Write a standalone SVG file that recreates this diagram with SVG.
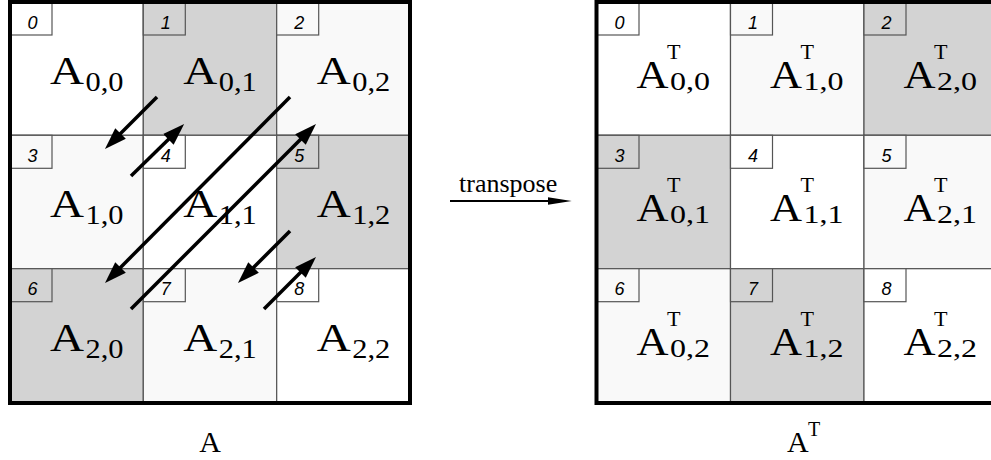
<svg xmlns="http://www.w3.org/2000/svg" width="991" height="460" viewBox="0 0 991 460">
<style>
.bg{fill:#ffffff}
.w{fill:#ffffff;stroke:#555555;stroke-width:1.2}
.l{fill:#f9f9f9;stroke:#555555;stroke-width:1.2}
.g{fill:#d3d3d3;stroke:#555555;stroke-width:1.2}
.border{fill:none;stroke:#000000;stroke-width:4}
.num{font-family:"Liberation Sans",Arial,sans-serif;font-style:italic;font-size:18px;fill:#000}
.a{font-family:"Liberation Serif","Times New Roman",serif;font-size:40px;fill:#000}
.s{font-family:"Liberation Serif","Times New Roman",serif;font-size:27px;fill:#000}
.ra{font-family:"Liberation Serif","Times New Roman",serif;font-size:40px;fill:#000}
.rs{font-family:"Liberation Serif","Times New Roman",serif;font-size:26px;fill:#000}
.rt{font-family:"Liberation Serif","Times New Roman",serif;font-size:21px;fill:#000}
.bl{font-family:"Liberation Serif","Times New Roman",serif;font-size:30px;fill:#000}
.bt{font-family:"Liberation Serif","Times New Roman",serif;font-size:20px;fill:#000}
.lbl{font-family:"Liberation Serif","Times New Roman",serif;font-size:26px;fill:#000}
.arr{stroke:#000;stroke-width:3.5;fill:none;marker-end:url(#ah)}
.tarr{stroke:#000;stroke-width:2;fill:none;marker-end:url(#ah2)}
</style>
<defs>
<marker id="ah" markerUnits="userSpaceOnUse" viewBox="0 -8 22 16" refX="6" refY="0" markerWidth="22" markerHeight="16" orient="auto">
<path d="M0,-7.5 L22,0 L0,7.5 z" fill="#000"/>
</marker>
<marker id="ah2" markerUnits="userSpaceOnUse" viewBox="0 -5 24 10" refX="4" refY="0" markerWidth="24" markerHeight="10" orient="auto">
<path d="M0,-3.8 L24,0 L0,3.8 z" fill="#000"/>
</marker>
</defs>
<rect class="bg" x="0" y="0" width="991" height="460"/>

<!-- Left matrix A -->
<g id="A00"><rect class="w" x="10" y="2" width="133.3" height="133.3"/><rect class="w" x="10" y="2" width="42" height="33"/><text class="num" x="27.5" y="28.5">0</text><text class="a" x="50" y="84" textLength="34" lengthAdjust="spacingAndGlyphs">A</text><text class="s" x="85.5" y="91" textLength="38" lengthAdjust="spacingAndGlyphs">0,0</text></g>
<g id="A01"><rect class="g" x="143.3" y="2" width="133.3" height="133.3"/><rect class="g" x="143.3" y="2" width="42" height="33"/><text class="num" x="160.8" y="28.5">1</text><text class="a" x="183.3" y="84" textLength="34" lengthAdjust="spacingAndGlyphs">A</text><text class="s" x="218.8" y="91" textLength="38" lengthAdjust="spacingAndGlyphs">0,1</text></g>
<g id="A02"><rect class="l" x="276.7" y="2" width="133.3" height="133.3"/><rect class="l" x="276.7" y="2" width="42" height="33"/><text class="num" x="294.2" y="28.5">2</text><text class="a" x="316.7" y="84" textLength="34" lengthAdjust="spacingAndGlyphs">A</text><text class="s" x="352.2" y="91" textLength="38" lengthAdjust="spacingAndGlyphs">0,2</text></g>
<g id="A10"><rect class="l" x="10" y="135.3" width="133.3" height="133.3"/><rect class="l" x="10" y="135.3" width="42" height="33"/><text class="num" x="27.5" y="161.8">3</text><text class="a" x="50" y="217.3" textLength="34" lengthAdjust="spacingAndGlyphs">A</text><text class="s" x="85.5" y="224.3" textLength="38" lengthAdjust="spacingAndGlyphs">1,0</text></g>
<g id="A11"><rect class="w" x="143.3" y="135.3" width="133.3" height="133.3"/><rect class="w" x="143.3" y="135.3" width="42" height="33"/><text class="num" x="160.8" y="161.8">4</text><text class="a" x="183.3" y="217.3" textLength="34" lengthAdjust="spacingAndGlyphs">A</text><text class="s" x="218.8" y="224.3" textLength="38" lengthAdjust="spacingAndGlyphs">1,1</text></g>
<g id="A12"><rect class="g" x="276.7" y="135.3" width="133.3" height="133.3"/><rect class="g" x="276.7" y="135.3" width="42" height="33"/><text class="num" x="294.2" y="161.8">5</text><text class="a" x="316.7" y="217.3" textLength="34" lengthAdjust="spacingAndGlyphs">A</text><text class="s" x="352.2" y="224.3" textLength="38" lengthAdjust="spacingAndGlyphs">1,2</text></g>
<g id="A20"><rect class="g" x="10" y="268.7" width="133.3" height="133.3"/><rect class="g" x="10" y="268.7" width="42" height="33"/><text class="num" x="27.5" y="295.2">6</text><text class="a" x="50" y="350.7" textLength="34" lengthAdjust="spacingAndGlyphs">A</text><text class="s" x="85.5" y="357.7" textLength="38" lengthAdjust="spacingAndGlyphs">2,0</text></g>
<g id="A21"><rect class="l" x="143.3" y="268.7" width="133.3" height="133.3"/><rect class="l" x="143.3" y="268.7" width="42" height="33"/><text class="num" x="160.8" y="295.2">7</text><text class="a" x="183.3" y="350.7" textLength="34" lengthAdjust="spacingAndGlyphs">A</text><text class="s" x="218.8" y="357.7" textLength="38" lengthAdjust="spacingAndGlyphs">2,1</text></g>
<g id="A22"><rect class="w" x="276.7" y="268.7" width="133.3" height="133.3"/><rect class="w" x="276.7" y="268.7" width="42" height="33"/><text class="num" x="294.2" y="295.2">8</text><text class="a" x="316.7" y="350.7" textLength="34" lengthAdjust="spacingAndGlyphs">A</text><text class="s" x="352.2" y="357.7" textLength="38" lengthAdjust="spacingAndGlyphs">2,2</text></g>
<rect id="A-border" class="border" x="10" y="2" width="400" height="401"/>
<text id="A-label" class="bl" x="210" y="452" text-anchor="middle">A</text>

<!-- Right matrix AT -->
<g id="T00"><rect class="w" x="597" y="2" width="133.5" height="133.3"/><rect class="w" x="597" y="2" width="42" height="33"/><text class="num" x="614.5" y="28.5">0</text><text class="ra" x="636.5" y="88" textLength="32" lengthAdjust="spacingAndGlyphs">A</text><text class="rt" x="667" y="59" textLength="13.5" lengthAdjust="spacingAndGlyphs">T</text><text class="rs" x="670" y="90" textLength="40" lengthAdjust="spacingAndGlyphs">0,0</text></g>
<g id="T01"><rect class="l" x="730.5" y="2" width="133.5" height="133.3"/><rect class="l" x="730.5" y="2" width="42" height="33"/><text class="num" x="748" y="28.5">1</text><text class="ra" x="770" y="88" textLength="32" lengthAdjust="spacingAndGlyphs">A</text><text class="rt" x="800.5" y="59" textLength="13.5" lengthAdjust="spacingAndGlyphs">T</text><text class="rs" x="803.5" y="90" textLength="40" lengthAdjust="spacingAndGlyphs">1,0</text></g>
<g id="T02"><rect class="g" x="864" y="2" width="133.5" height="133.3"/><rect class="g" x="864" y="2" width="42" height="33"/><text class="num" x="881.5" y="28.5">2</text><text class="ra" x="903.5" y="88" textLength="32" lengthAdjust="spacingAndGlyphs">A</text><text class="rt" x="934" y="59" textLength="13.5" lengthAdjust="spacingAndGlyphs">T</text><text class="rs" x="937" y="90" textLength="40" lengthAdjust="spacingAndGlyphs">2,0</text></g>
<g id="T10"><rect class="g" x="597" y="135.3" width="133.5" height="133.3"/><rect class="g" x="597" y="135.3" width="42" height="33"/><text class="num" x="614.5" y="161.8">3</text><text class="ra" x="636.5" y="221.3" textLength="32" lengthAdjust="spacingAndGlyphs">A</text><text class="rt" x="667" y="192.3" textLength="13.5" lengthAdjust="spacingAndGlyphs">T</text><text class="rs" x="670" y="223.3" textLength="40" lengthAdjust="spacingAndGlyphs">0,1</text></g>
<g id="T11"><rect class="w" x="730.5" y="135.3" width="133.5" height="133.3"/><rect class="w" x="730.5" y="135.3" width="42" height="33"/><text class="num" x="748" y="161.8">4</text><text class="ra" x="770" y="221.3" textLength="32" lengthAdjust="spacingAndGlyphs">A</text><text class="rt" x="800.5" y="192.3" textLength="13.5" lengthAdjust="spacingAndGlyphs">T</text><text class="rs" x="803.5" y="223.3" textLength="40" lengthAdjust="spacingAndGlyphs">1,1</text></g>
<g id="T12"><rect class="l" x="864" y="135.3" width="133.5" height="133.3"/><rect class="l" x="864" y="135.3" width="42" height="33"/><text class="num" x="881.5" y="161.8">5</text><text class="ra" x="903.5" y="221.3" textLength="32" lengthAdjust="spacingAndGlyphs">A</text><text class="rt" x="934" y="192.3" textLength="13.5" lengthAdjust="spacingAndGlyphs">T</text><text class="rs" x="937" y="223.3" textLength="40" lengthAdjust="spacingAndGlyphs">2,1</text></g>
<g id="T20"><rect class="l" x="597" y="268.7" width="133.5" height="133.3"/><rect class="l" x="597" y="268.7" width="42" height="33"/><text class="num" x="614.5" y="295.2">6</text><text class="ra" x="636.5" y="354.7" textLength="32" lengthAdjust="spacingAndGlyphs">A</text><text class="rt" x="667" y="325.7" textLength="13.5" lengthAdjust="spacingAndGlyphs">T</text><text class="rs" x="670" y="356.7" textLength="40" lengthAdjust="spacingAndGlyphs">0,2</text></g>
<g id="T21"><rect class="g" x="730.5" y="268.7" width="133.5" height="133.3"/><rect class="g" x="730.5" y="268.7" width="42" height="33"/><text class="num" x="748" y="295.2">7</text><text class="ra" x="770" y="354.7" textLength="32" lengthAdjust="spacingAndGlyphs">A</text><text class="rt" x="800.5" y="325.7" textLength="13.5" lengthAdjust="spacingAndGlyphs">T</text><text class="rs" x="803.5" y="356.7" textLength="40" lengthAdjust="spacingAndGlyphs">1,2</text></g>
<g id="T22"><rect class="w" x="864" y="268.7" width="133.5" height="133.3"/><rect class="w" x="864" y="268.7" width="42" height="33"/><text class="num" x="881.5" y="295.2">8</text><text class="ra" x="903.5" y="354.7" textLength="32" lengthAdjust="spacingAndGlyphs">A</text><text class="rt" x="934" y="325.7" textLength="13.5" lengthAdjust="spacingAndGlyphs">T</text><text class="rs" x="937" y="356.7" textLength="40" lengthAdjust="spacingAndGlyphs">2,2</text></g>
<rect id="T-border" class="border" x="596.5" y="2" width="404" height="401"/>
<g id="T-label"><text class="bl" x="787" y="452">A</text><text class="bt" x="808" y="436">T</text></g>

<!-- Connectors -->
<g id="connectors">
<line class="arr" x1="157" y1="97" x2="116.3" y2="137.7"/>
<line class="arr" x1="131" y1="176" x2="172.7" y2="135.3"/>
<line class="arr" x1="290" y1="97" x2="116.3" y2="271.7"/>
<line class="arr" x1="131" y1="309" x2="304.7" y2="135.3"/>
<line class="arr" x1="290" y1="231" x2="249.3" y2="271.7"/>
<line class="arr" x1="264" y1="309" x2="304.7" y2="268.3"/>
<line class="tarr" x1="450" y1="201" x2="551.7" y2="201"/>
</g>
<text id="transpose-label" class="lbl" x="459" y="191.7">transpose</text>
</svg>
